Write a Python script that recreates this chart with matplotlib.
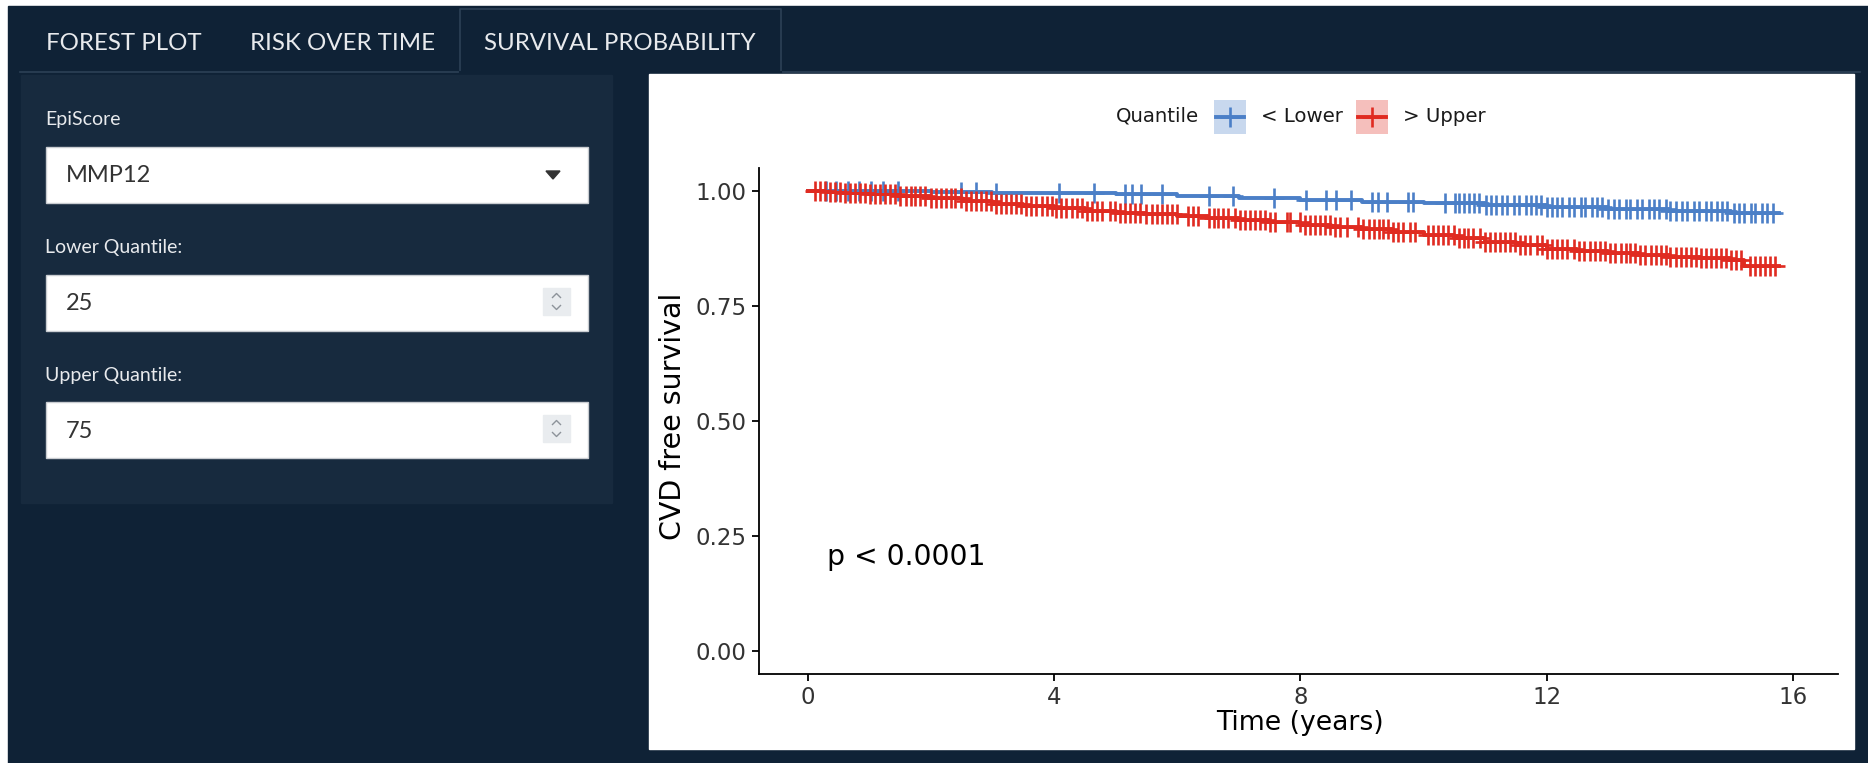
import numpy as np
import matplotlib.pyplot as plt
from matplotlib.patches import Rectangle, Polygon

W, H = 1868, 763

# ---- values ----
groups = ['< Lower', '> Upper']
legend_title = 'Quantile'
colors = ['#4b7fc7', '#e02b21']

# Kaplan-Meier steps (time in years, survival)
lower_t = [0, 1.0, 2.0, 3.0, 4.0, 5.0, 6.0, 7.0, 8.0, 9.0, 10.0, 11.0, 12.0, 13.0, 14.0, 15.0]
lower_s = [1.0, 0.999, 0.998, 0.996, 0.995, 0.993, 0.990, 0.985, 0.980, 0.976, 0.973, 0.970,
           0.965, 0.960, 0.956, 0.952]
upper_t = [0, 0.3, 0.6, 1.0, 1.5, 2.0, 2.5, 3.0, 3.5, 4.0, 4.5, 5.0, 5.5, 6.0, 6.5, 7.0, 7.5,
           8.0, 8.5, 9.0, 9.5, 10.0, 10.5, 11.0, 11.5, 12.0, 12.5, 13.0, 13.5, 14.0, 14.5,
           15.0, 15.2]
upper_s = [1.0, 0.998, 0.996, 0.993, 0.989, 0.984, 0.978, 0.972, 0.967, 0.962, 0.957, 0.953,
           0.949, 0.945, 0.941, 0.937, 0.932, 0.927, 0.922, 0.917, 0.911, 0.905, 0.898, 0.890,
           0.882, 0.875, 0.870, 0.865, 0.861, 0.857, 0.854, 0.851, 0.837]
t_end = 15.78

# censoring marks
lower_cens = [0.3, 0.46, 0.65, 0.84, 1.03, 1.22, 1.47, 2.49, 2.74, 3.06, 4.08, 4.65, 5.15, 5.26,
              5.42, 5.75, 6.51, 6.91, 7.57, 8.09, 8.42, 8.58, 8.82, 9.17, 9.26, 9.41, 9.75, 9.83,
              10.35, 10.51, 10.58, 10.66, 10.74, 10.82, 10.9, 11.01, 11.09, 11.17, 11.28, 11.36,
              11.47, 11.55, 11.66, 11.74, 11.82, 11.9, 12.01, 12.09, 12.17, 12.25, 12.36, 12.44,
              12.55, 12.63, 12.74, 12.82, 12.9, 13.0, 13.09, 13.17, 13.28, 13.36, 13.47, 13.55,
              13.66, 13.74, 13.82, 13.93, 14.01, 14.1, 14.2, 14.28, 14.39, 14.47, 14.58, 14.66,
              14.77, 14.85, 14.93, 15.04, 15.12, 15.2, 15.31, 15.39, 15.5, 15.58, 15.67]
upper_cens = [0.12, 0.2, 0.28, 0.36, 0.45, 0.53, 0.61, 0.69, 0.77, 0.85, 0.93, 1.02, 1.1, 1.18,
              1.26, 1.34, 1.42, 1.5, 1.59, 1.67, 1.75, 1.83, 1.91, 2.0, 2.08, 2.16, 2.24, 2.32,
              2.4, 2.49, 2.57, 2.65, 2.73, 2.81, 2.9, 2.98, 3.06, 3.14, 3.22, 3.3, 3.39, 3.47,
              3.55, 3.63, 3.71, 3.8, 3.88, 3.96, 4.04, 4.12, 4.2, 4.29, 4.37, 4.45, 4.53, 4.61,
              4.7, 4.78, 4.91, 4.99, 5.07, 5.15, 5.23, 5.32, 5.4, 5.5, 5.59, 5.67, 5.75, 5.83,
              5.91, 5.99, 6.18, 6.26, 6.34, 6.51, 6.59, 6.67, 6.75, 6.83, 6.94, 7.02, 7.1, 7.18,
              7.26, 7.35, 7.43, 7.51, 7.59, 7.78, 7.83, 7.99, 8.08, 8.16, 8.24, 8.32, 8.4, 8.48,
              8.56, 8.65, 8.75, 8.94, 9.02, 9.11, 9.19, 9.27, 9.35, 9.43, 9.51, 9.59, 9.67, 9.78,
              9.86, 10.08, 10.16, 10.24, 10.32, 10.4, 10.49, 10.57, 10.65, 10.73, 10.81, 10.92,
              11.0, 11.08, 11.16, 11.24, 11.33, 11.41, 11.49, 11.57, 11.65, 11.73, 11.84, 11.92,
              12.0, 12.08, 12.16, 12.25, 12.33, 12.44, 12.52, 12.6, 12.71, 12.79, 12.87, 12.95,
              13.03, 13.11, 13.2, 13.28, 13.36, 13.44, 13.52, 13.6, 13.69, 13.77, 13.85, 13.93,
              14.01, 14.1, 14.18, 14.26, 14.34, 14.42, 14.5, 14.59, 14.67, 14.75, 14.83, 14.91,
              15.0, 15.08, 15.16, 15.3, 15.38, 15.46, 15.54, 15.62, 15.7]

p_label = 'p < 0.0001'
x_ticks = [0, 4, 8, 12, 16]
y_ticks = [0.0, 0.25, 0.5, 0.75, 1.0]
y_ticklabels = ['0.00', '0.25', '0.50', '0.75', '1.00']
x_title = 'Time (years)'
y_title = 'CVD free survival'

tabs = ['FOREST PLOT', 'RISK OVER TIME', 'SURVIVAL PROBABILITY']
inputs = [('EpiScore', 'MMP12'), ('Lower Quantile:', '25'), ('Upper Quantile:', '75')]

NAVY = '#0f2236'
WELL = '#172a3e'
EDGE = '#2d4156'
UI_FONT = ['Lato', 'DejaVu Sans']

fig = plt.figure(figsize=(W / 100, H / 100), dpi=100)
fig.patch.set_facecolor('white')

# background canvas in pixel coordinates
bg = fig.add_axes([0, 0, 1, 1])
bg.set_xlim(0, W)
bg.set_ylim(H, 0)
bg.axis('off')
bg.add_patch(Rectangle((8, 6), W - 8, H - 6, color=NAVY, zorder=0))

# tabs
tab_x = [46, 250, 484]
for name, x in zip(tabs, tab_x):
    bg.text(x, 43, name, color='#e8eaed', fontsize=17.3, family=UI_FONT, va='center', ha='left')
bg.plot([20, 460, 460, 781, 781, W - 8], [72, 72, 9, 9, 72, 72], color=EDGE, lw=1.2)
bg.plot([460, 781], [72, 72], color=NAVY, lw=1.5)

# sidebar well
bg.add_patch(Rectangle((21, 75), 591, 428, color=WELL, zorder=1))
label_y = [120, 248, 376]
box_top = [147, 275, 402]
for (lab, val), ly, by in zip(inputs, label_y, box_top):
    bg.text(45, ly, lab, color='#e8eaed', fontsize=14, family=UI_FONT, va='center', zorder=3)
    bg.add_patch(Rectangle((46, by), 542, 56, facecolor='white', edgecolor='#c9ccd1',
                           lw=1, zorder=2))
    bg.text(66, by + 29, val, color='#333333', fontsize=17, family=UI_FONT, va='center',
            zorder=3)
    if lab == 'EpiScore':
        cx, cy = 553, by + 28
        bg.add_patch(Polygon([[cx - 7, cy - 4], [cx + 7, cy - 4], [cx, cy + 4]],
                             color='#333333', zorder=3))
    else:
        bg.add_patch(Rectangle((543, by + 13), 27, 27, color='#e9ecef', zorder=3))
        cx, cy = 556.5, by + 26.5
        bg.plot([cx - 4, cx, cx + 4], [cy - 4, cy - 8, cy - 4], color='#8d939a', lw=1, zorder=4)
        bg.plot([cx - 4, cx, cx + 4], [cy + 4, cy + 8, cy + 4], color='#8d939a', lw=1, zorder=4)

# plot panel
bg.add_patch(Rectangle((649, 74), 1205, 675, color='white', zorder=1))

# legend
bg.text(1116, 116, legend_title, fontsize=14.2, color='#1a1a1a', va='center', zorder=3)
key_x = [1214, 1356]
for g, c, kx in zip(groups, colors, key_x):
    bg.add_patch(Rectangle((kx, 100), 32, 34, color=c, alpha=0.3, lw=0, zorder=2))
    bg.plot([kx + 2, kx + 30], [117, 117], color=c, lw=2.8, zorder=3)
    bg.plot([kx + 16], [117], marker='+', ms=15, mew=1.9, color=c, zorder=3)
    bg.text(kx + 47, 116, g, fontsize=14.2, color='#1a1a1a', va='center', zorder=3)

# survival axes
ax = fig.add_axes([759 / W, 1 - 674 / H, (1838 - 759) / W, (674 - 168) / H])
ax.set_facecolor('none')
ax.set_xlim(-0.79, 16.73)
ax.set_ylim(-0.05, 1.05)

curves = [(lower_t, lower_s, lower_cens), (upper_t, upper_s, upper_cens)]
for (t, s, cens), c in zip(curves, colors):
    t = np.array(t + [t_end])
    s = np.array(s + [s[-1]])
    ax.step(t, s, where='post', color=c, lw=2.8, zorder=3)
    idx = np.searchsorted(t, cens, side='right') - 1
    ax.plot(cens, s[idx], ls='none', marker='+', ms=15, mew=1.9, color=c, zorder=4)

ax.text(0.31, 0.205, p_label, fontsize=20.3, color='black', va='center', ha='left')

ax.set_xticks(x_ticks)
ax.set_yticks(y_ticks)
ax.set_yticklabels(y_ticklabels)
ax.tick_params(labelsize=16.5, labelcolor='#333333', length=5, width=1.3, pad=4)
for side in ['top', 'right']:
    ax.spines[side].set_visible(False)
for side in ['left', 'bottom']:
    ax.spines[side].set_linewidth(1.3)

ax.set_xlabel(x_title, fontsize=19.2, va='center')
ax.xaxis.set_label_coords(0.5014, -0.097)
ax.set_ylabel(y_title, fontsize=20.5, va='center')
ax.yaxis.set_label_coords(-0.0797, 0.51)

fig.savefig('out.png', dpi=100, facecolor=fig.get_facecolor())
